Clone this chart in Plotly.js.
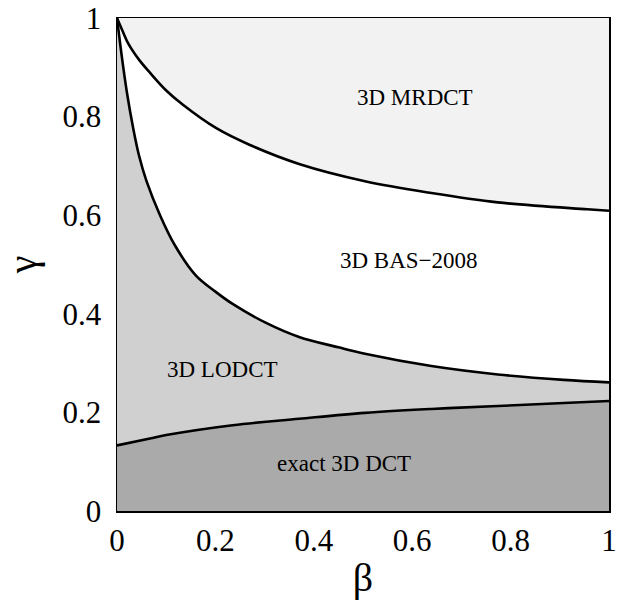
<!DOCTYPE html>
<html>
<head>
<meta charset="utf-8">
<script src="https://cdn.plot.ly/plotly-3.0.1.min.js"></script>
<style>html,body{margin:0;padding:0;background:#fff;}</style>
</head>
<body>
<div id="chart" style="width:617px;height:607px;"></div>
<script>
// Boundary curves (beta -> gamma)
var betaTop  = [0, 0.012, 0.023, 0.045, 0.067, 0.10, 0.134, 0.201, 0.269, 0.370, 0.504, 0.639, 0.774, 0.956, 1];
var gammaTop = [1, 0.972, 0.948, 0.915, 0.889, 0.853, 0.824, 0.777, 0.743, 0.704, 0.669, 0.645, 0.626, 0.612, 0.609];

var betaMid  = [0, 0.01, 0.02, 0.033, 0.045, 0.06, 0.087, 0.117, 0.16, 0.2, 0.235, 0.302, 0.37, 0.45, 0.504, 0.639, 0.774, 0.908, 1];
var gammaMid = [1, 0.92, 0.85, 0.776, 0.72, 0.669, 0.601, 0.540, 0.478, 0.445, 0.420, 0.382, 0.353, 0.332, 0.319, 0.294, 0.277, 0.266, 0.261];

var betaBot  = [0, 0.067, 0.100, 0.235, 0.370, 0.504, 0.639, 0.774, 0.908, 1];
var gammaBot = [0.133, 0.147, 0.154, 0.174, 0.187, 0.199, 0.207, 0.213, 0.219, 0.223];

var betaEdge  = [0, 1];
var gammaEdge = [1, 1];

// Region labels
var regionNames = ['3D MRDCT', '3D BAS\u22122008', '3D LODCT', 'exact 3D DCT'];
var regionBeta  = [0.606, 0.594, 0.215, 0.462];
var regionGamma = [0.838, 0.508, 0.288, 0.096];

var tickVals = [0, 0.2, 0.4, 0.6, 0.8, 1];
var tickText = ['0', '0.2', '0.4', '0.6', '0.8', '1'];

var fillExact = '#aaaaaa', fillLodct = '#d0d0d0', fillMrdct = '#f2f2f2';
var serif = 'Liberation Serif, Times New Roman, serif';
var lineStyle = {color: '#000', width: 2.6, shape: 'spline', smoothing: 1};
var noLine = {width: 0, shape: 'spline', smoothing: 1};

var traces = [
  {x: betaBot, y: gammaBot, mode: 'lines', fill: 'tozeroy', fillcolor: fillExact, line: noLine, hoverinfo: 'skip'},
  {x: betaMid, y: gammaMid, mode: 'lines', fill: 'tonexty', fillcolor: fillLodct, line: noLine, hoverinfo: 'skip'},
  {x: betaTop, y: gammaTop, mode: 'lines', line: noLine, hoverinfo: 'skip'},
  {x: betaEdge, y: gammaEdge, mode: 'lines', fill: 'tonexty', fillcolor: fillMrdct, line: {width: 0}, hoverinfo: 'skip'},
  {x: betaBot, y: gammaBot, mode: 'lines', line: lineStyle},
  {x: betaMid, y: gammaMid, mode: 'lines', line: lineStyle},
  {x: betaTop, y: gammaTop, mode: 'lines', line: lineStyle}
];

var annotations = regionNames.map(function (t, i) {
  return {x: regionBeta[i], y: regionGamma[i], xref: 'x', yref: 'y', text: t, showarrow: false,
          font: {family: serif, size: 23, color: '#000'}};
});

var axisCommon = {
  range: [0, 1], showgrid: false, zeroline: false, showline: true, mirror: true,
  linecolor: '#000', linewidth: 1.5, ticks: '', tickvals: tickVals, ticktext: tickText,
  ticklabeloverflow: 'allow',
  tickfont: {family: serif, size: 31, color: '#000'}
};

var layout = {
  width: 617, height: 607,
  margin: {l: 117, r: 8, t: 18, b: 96},
  paper_bgcolor: '#fff', plot_bgcolor: '#fff',
  showlegend: false,
  xaxis: Object.assign({}, axisCommon, {
    title: {text: '\u03b2', font: {family: serif, size: 40, color: '#000'}, standoff: 6},
    ticklabelstandoff: 1
  }),
  yaxis: Object.assign({}, axisCommon, {
    title: {text: '\u03b3', font: {family: serif, size: 40, color: '#000'}, standoff: 18},
    ticklabelstandoff: 8
  }),
  annotations: annotations
};

Plotly.newPlot('chart', traces, layout, {staticPlot: true, displayModeBar: false});
</script>
</body>
</html>
